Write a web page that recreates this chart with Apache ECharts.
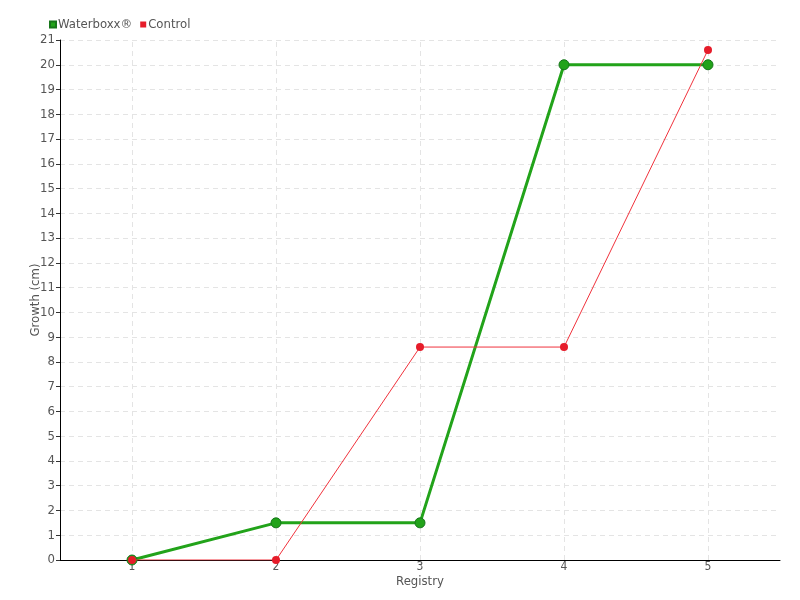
<!DOCTYPE html>
<html>
<head>
<meta charset="utf-8">
<script src="https://cdn.jsdelivr.net/npm/echarts@6/dist/echarts.min.js"></script>
<style>
  body { margin: 0; background: #fff; }
  #chart { width: 800px; height: 600px; }
</style>
</head>
<body>
<div id="chart"></div>
<script>
// registry numbers on the x axis
const registries = ["1", "2", "3", "4", "5"];
// growth in cm
const waterboxx = [0, 1.5, 1.5, 20, 20];
const control = [0, 0, 8.6, 8.6, 20.6];

const font = "DejaVu Sans Condensed";
const gridDash = { color: "#e4e4e4", type: [5, 4], width: 1 };
const chart = echarts.init(document.getElementById("chart"));

const option = {
  backgroundColor: "#fff",
  textStyle: { fontFamily: font },
  animation: false,
  legend: {
    left: 44,
    top: 13,
    icon: "rect",
    itemWidth: 6,
    itemHeight: 6,
    itemGap: 8,
    textStyle: { fontFamily: font, fontSize: 13, color: "#555", padding: [0, 0, 0, -3] },
    data: ["Waterboxx®", "Control"]
  },
  grid: { left: 60, right: 20, top: 40, bottom: 40 },
  xAxis: {
    type: "category",
    data: registries,
    boundaryGap: true,
    name: "Registry",
    nameLocation: "middle",
    nameGap: 15,
    nameMoveOverlap: false,
    nameTextStyle: { fontFamily: font, fontSize: 13, color: "#555" },
    axisLine: { lineStyle: { color: "#000" } },
    axisTick: { alignWithLabel: true, length: 5, lineStyle: { color: "#333" } },
    axisLabel: { fontFamily: font, fontSize: 12, color: "#555", margin: 1 },
    splitLine: { show: false }
  },
  yAxis: {
    type: "value",
    min: 0,
    max: 21,
    interval: 1,
    name: "Growth (cm)",
    nameLocation: "middle",
    nameGap: 18,
    nameMoveOverlap: false,
    nameTextStyle: { fontFamily: font, fontSize: 13, color: "#555" },
    axisLine: { show: true, lineStyle: { color: "#000" } },
    axisTick: { show: true, length: 4, lineStyle: { color: "#333" } },
    axisLabel: { fontFamily: font, fontSize: 13, color: "#555", margin: 5 },
    splitLine: { show: true, lineStyle: gridDash }
  },
  series: [
    {
      name: "Waterboxx®",
      type: "line",
      data: waterboxx,
      symbol: "circle",
      symbolSize: 10,
      color: "#22a31a",
      lineStyle: { width: 3, color: "#22a31a" },
      itemStyle: { color: "#22a31a", borderColor: "#16761a", borderWidth: 1 },
      z: 3,
      // vertical dashed grid lines through each category
      markLine: {
        silent: true,
        z: 0,
        symbol: "none",
        label: { show: false },
        lineStyle: gridDash,
        emphasis: { disabled: true },
        data: registries.map(r => ({ xAxis: r }))
      }
    },
    {
      name: "Control",
      type: "line",
      data: control,
      symbol: "circle",
      symbolSize: 8,
      color: "#e61c2a",
      lineStyle: { width: 1, color: "#f0323c" },
      itemStyle: { color: "#e61c2a" },
      z: 4
    }
  ]
};

chart.setOption(option);
</script>
</body>
</html>
